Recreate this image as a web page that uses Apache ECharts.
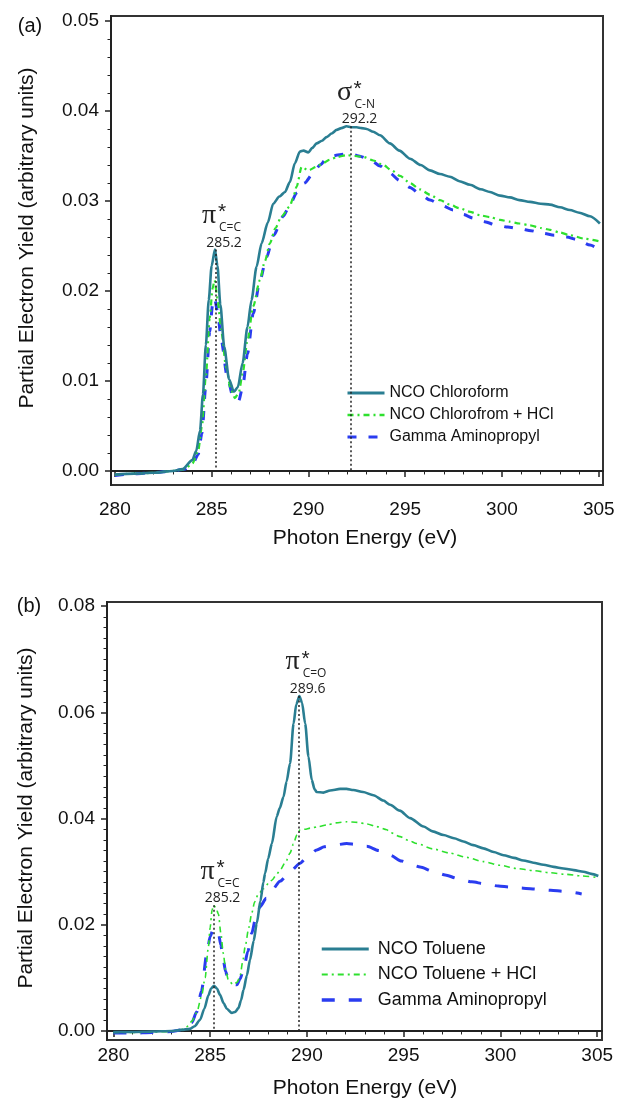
<!DOCTYPE html>
<html>
<head>
<meta charset="utf-8">
<script src="https://cdn.jsdelivr.net/npm/echarts@6/dist/echarts.min.js"></script>
<style>
html, body { margin: 0; padding: 0; background: #fff; }
#main { width: 618px; height: 1099px; }
</style>
</head>
<body>
<div id="main"></div>
<script>
// ---- panel (a) : chloroform ----
var aTealX = [280, 281, 282, 283, 283.5, 284.0, 284.2, 284.4, 284.55, 284.7, 284.85, 285.0, 285.17, 285.3, 285.45, 285.65, 285.9, 286.15, 286.35, 286.6, 286.85, 287.06, 287.32, 287.58, 287.9, 288.18, 288.5, 288.79, 289.04, 289.3, 289.56, 289.75, 289.99, 290.2, 290.42, 290.7, 290.94, 291.2, 291.46, 291.7, 291.97, 292.2, 292.49, 292.75, 293.01, 293.35, 293.7, 294.21, 294.7, 295.25, 295.8, 296.28, 296.8, 297.31, 297.8, 298.35, 298.9, 299.38, 299.9, 300.41, 300.9, 301.45, 302.0, 302.48, 303.0, 303.51, 304.0, 304.55, 305.06];
var aTealY = [-0.0004, -0.0003, -0.0002, 0.0000, 0.0002, 0.0012, 0.0022, 0.0045, 0.0085, 0.0140, 0.0190, 0.0228, 0.0246, 0.0228, 0.0185, 0.0138, 0.0102, 0.0088, 0.0093, 0.0120, 0.0160, 0.0190, 0.0227, 0.0253, 0.0276, 0.0297, 0.0305, 0.0310, 0.0321, 0.0342, 0.0355, 0.0356, 0.0354, 0.0359, 0.0364, 0.0367, 0.0371, 0.0375, 0.0379, 0.0381, 0.0383, 0.0382, 0.0382, 0.0381, 0.0380, 0.0377, 0.0373, 0.0364, 0.0356, 0.0347, 0.0340, 0.0334, 0.0330, 0.0327, 0.0322, 0.0318, 0.0313, 0.0310, 0.0306, 0.0304, 0.0301, 0.0299, 0.0297, 0.0296, 0.0293, 0.0290, 0.0287, 0.0283, 0.0275];

var aGreenX = [280, 281, 282, 283, 283.6, 284.0, 284.3, 284.5, 284.7, 284.9, 285.05, 285.15, 285.3, 285.5, 285.75, 286.0, 286.2, 286.4, 286.6, 286.85, 287.15, 287.49, 287.75, 288.01, 288.3, 288.61, 289.04, 289.2, 289.39, 289.65, 289.99, 290.42, 290.75, 291.11, 291.5, 291.97, 292.4, 292.83, 293.35, 293.87, 294.3, 294.73, 295.25, 295.75, 296.28, 296.8, 297.31, 297.8, 298.35, 298.9, 299.38, 299.9, 300.41, 300.9, 301.45, 302.0, 302.48, 303.0, 303.51, 304.3, 305.06];
var aGreenY = [-0.0004, -0.0003, -0.0002, 0.0000, 0.0002, 0.0008, 0.0022, 0.0050, 0.0105, 0.0170, 0.0203, 0.0212, 0.0192, 0.0155, 0.0115, 0.0090, 0.0081, 0.0087, 0.0108, 0.0145, 0.0183, 0.0212, 0.0233, 0.0253, 0.0270, 0.0283, 0.0294, 0.0303, 0.0316, 0.0338, 0.0334, 0.0338, 0.0342, 0.0346, 0.0349, 0.0351, 0.0350, 0.0349, 0.0345, 0.0340, 0.0334, 0.0328, 0.0320, 0.0313, 0.0307, 0.0301, 0.0296, 0.0292, 0.0288, 0.0284, 0.0282, 0.0279, 0.0277, 0.0275, 0.0273, 0.0270, 0.0268, 0.0265, 0.0262, 0.0258, 0.0255];

var aBlueX = [280, 281, 282, 283, 283.6, 284.0, 284.3, 284.5, 284.7, 284.9, 285.05, 285.15, 285.3, 285.5, 285.8, 286.1, 286.4, 286.6, 286.85, 287.15, 287.5, 287.84, 288.2, 288.7, 289.05, 289.39, 289.8, 290.25, 290.6, 290.94, 291.5, 292.14, 292.6, 293.18, 293.7, 294.21, 294.7, 295.25, 295.75, 296.28, 296.9, 297.48, 298.0, 298.52, 299.1, 299.73, 300.3, 300.93, 301.5, 302.13, 302.7, 303.34, 303.9, 304.55, 304.8];
var aBlueY = [-0.0005, -0.0003, -0.0002, 0.0000, 0.0002, 0.0007, 0.0018, 0.0042, 0.0095, 0.0155, 0.0185, 0.0192, 0.0178, 0.0145, 0.0105, 0.0083, 0.0078, 0.0093, 0.0130, 0.0175, 0.0212, 0.0238, 0.0262, 0.0283, 0.0296, 0.0309, 0.0320, 0.0331, 0.0340, 0.0347, 0.0351, 0.0353, 0.0350, 0.0346, 0.0339, 0.0331, 0.0323, 0.0315, 0.0308, 0.0301, 0.0295, 0.0290, 0.0285, 0.0281, 0.0277, 0.0273, 0.0271, 0.0269, 0.0267, 0.0264, 0.0262, 0.0260, 0.0257, 0.0251, 0.0249];

// ---- panel (b) : toluene ----
var bTealX = [280, 281, 282, 283, 283.5, 283.96, 284.2, 284.48, 284.7, 284.91, 285.05, 285.2, 285.35, 285.51, 285.7, 285.86, 286.12, 286.3, 286.46, 286.6, 286.72, 286.9, 287.06, 287.25, 287.41, 287.6, 287.75, 287.84, 288.0, 288.19, 288.44, 288.6, 288.79, 288.95, 289.13, 289.31, 289.45, 289.61, 289.75, 289.91, 290.08, 290.25, 290.4, 290.51, 290.85, 291.2, 291.72, 292.05, 292.4, 292.9, 293.44, 293.95, 294.3, 294.8, 295.33, 296.03, 296.5, 297.06, 297.6, 298.09, 298.6, 299.12, 299.65, 300.16, 300.7, 301.19, 301.7, 302.22, 302.75, 303.26, 303.8, 304.29, 304.7, 305.06];
var bTealY = [-0.0002, -0.0002, -0.0001, 0.0000, 0.0002, 0.0004, 0.0009, 0.0021, 0.0042, 0.0067, 0.0080, 0.0085, 0.0080, 0.0068, 0.0052, 0.0042, 0.0034, 0.0036, 0.0043, 0.0058, 0.0077, 0.0105, 0.0134, 0.0170, 0.0203, 0.0245, 0.0280, 0.0297, 0.0325, 0.0353, 0.0404, 0.0420, 0.0441, 0.0470, 0.0504, 0.0579, 0.0615, 0.0631, 0.0618, 0.0579, 0.0517, 0.0473, 0.0455, 0.0450, 0.0449, 0.0453, 0.0456, 0.0456, 0.0454, 0.0450, 0.0444, 0.0434, 0.0426, 0.0415, 0.0401, 0.0385, 0.0376, 0.0369, 0.0363, 0.0357, 0.0350, 0.0344, 0.0337, 0.0331, 0.0326, 0.0321, 0.0317, 0.0313, 0.0309, 0.0306, 0.0303, 0.0300, 0.0296, 0.0292];

var bGreenX = [280, 281, 282, 283, 283.5, 283.79, 284.05, 284.31, 284.55, 284.74, 284.9, 285.0, 285.1, 285.17, 285.3, 285.43, 285.55, 285.68, 285.8, 285.94, 286.2, 286.4, 286.55, 286.68, 286.81, 287.0, 287.15, 287.3, 287.49, 287.75, 288.0, 288.19, 288.4, 288.61, 288.9, 289.13, 289.3, 289.48, 289.65, 289.9, 290.17, 290.6, 291.03, 291.5, 292.06, 292.6, 293.1, 293.6, 294.13, 294.3, 294.82, 295.25, 295.68, 296.5, 297.4, 298.25, 299.12, 300.0, 300.85, 301.7, 302.57, 303.4, 304.2, 305.06];
var bGreenY = [-0.0003, -0.0003, -0.0002, -0.0001, 0.0002, 0.0008, 0.0018, 0.0035, 0.0065, 0.0100, 0.0155, 0.0195, 0.0228, 0.0237, 0.0232, 0.0220, 0.0185, 0.0146, 0.0115, 0.0096, 0.0087, 0.0092, 0.0104, 0.0130, 0.0159, 0.0195, 0.0222, 0.0243, 0.0258, 0.0268, 0.0277, 0.0284, 0.0293, 0.0303, 0.0318, 0.0335, 0.0352, 0.0369, 0.0379, 0.0380, 0.0382, 0.0385, 0.0388, 0.0392, 0.0394, 0.0393, 0.0390, 0.0385, 0.0379, 0.0374, 0.0366, 0.0359, 0.0353, 0.0343, 0.0335, 0.0327, 0.0319, 0.0312, 0.0306, 0.0302, 0.0298, 0.0295, 0.0292, 0.0289];

var bBlueX = [280, 281, 282, 283, 283.5, 283.79, 284.05, 284.31, 284.55, 284.83, 285.0, 285.17, 285.3, 285.43, 285.55, 285.68, 285.8, 285.94, 286.15, 286.38, 286.55, 286.72, 286.95, 287.15, 287.35, 287.58, 287.9, 288.19, 288.61, 289.13, 289.65, 290.0, 290.51, 290.9, 291.37, 292.06, 292.6, 293.1, 293.7, 294.3, 294.9, 295.4, 295.85, 296.5, 297.14, 297.8, 298.52, 299.2, 299.9, 300.5, 301.19, 301.9, 302.6, 303.3, 304.2];
var bBlueY = [-0.0004, -0.0004, -0.0003, -0.0001, 0.0002, 0.0007, 0.0016, 0.0036, 0.0075, 0.0146, 0.0178, 0.0193, 0.0191, 0.0184, 0.0162, 0.0134, 0.0112, 0.0096, 0.0088, 0.0087, 0.0098, 0.0115, 0.0150, 0.0184, 0.0212, 0.0234, 0.0250, 0.0265, 0.0282, 0.0300, 0.0316, 0.0327, 0.0341, 0.0347, 0.0350, 0.0353, 0.0351, 0.0348, 0.0340, 0.0331, 0.0320, 0.0313, 0.0309, 0.0301, 0.0294, 0.0287, 0.0281, 0.0277, 0.0273, 0.0271, 0.0269, 0.0267, 0.0265, 0.0263, 0.0258];

// ticks
var xTicks = [280, 285, 290, 295, 300, 305];
var yTicksA = [0, 0.01, 0.02, 0.03, 0.04, 0.05];
var yTicksB = [0, 0.02, 0.04, 0.06, 0.08];

// peak markers: [energy, height, symbol, subscript, label]
var peaksA = [[285.2, 0.0246, 'π', 'C=C', '285.2'], [292.2, 0.0383, 'σ', 'C-N', '292.2']];
var peaksB = [[285.2, 0.0237, 'π', 'C=C', '285.2'], [289.6, 0.0631, 'π', 'C=O', '289.6']];

var TEAL = '#2a7e92', GREEN = '#2ee02e', BLUE = '#2a3cf0', INK = '#222';
var FONT = 'Liberation Sans';

function pairs(xs, ys) {
    return xs.map(function (x, i) { return [x, ys[i]]; });
}
function minorSteps(from, to, step, every) {
    var out = [];
    for (var k = Math.round(from / step); k * step <= to + 1e-9; k++) {
        if (k % every !== 0) out.push(+(k * step).toFixed(4));
    }
    return out;
}
var xMinor = minorSteps(280, 305, 1, 5);
var yMinorA = minorSteps(0, 0.05, 0.002, 5);
var yMinorB = minorSteps(0, 0.08, 0.002, 10);

function mainX(grid, min, max, margin) {
    return {
        type: 'value', gridIndex: grid, position: 'bottom', min: min, max: max,
        axisLine: { show: true, lineStyle: { color: INK, width: 2 } },
        axisTick: { show: true, customValues: xTicks, length: 6, lineStyle: { color: INK, width: 1.5 } },
        axisLabel: { customValues: xTicks, margin: margin, color: '#111', fontSize: 19, fontFamily: FONT },
        splitLine: { show: false }
    };
}
function minorX(grid, min, max) {
    return {
        type: 'value', gridIndex: grid, position: 'bottom', min: min, max: max,
        axisLine: { show: false },
        axisTick: { show: true, customValues: xMinor, length: 3.5, lineStyle: { color: INK, width: 1 } },
        axisLabel: { show: false }, splitLine: { show: false }
    };
}
function mainY(grid, min, max, ticks) {
    return {
        type: 'value', gridIndex: grid, position: 'left', min: min, max: max,
        axisLine: { show: true, lineStyle: { color: INK, width: 2 } },
        axisTick: { show: true, customValues: ticks, length: 6, lineStyle: { color: INK, width: 1.5 } },
        axisLabel: {
            customValues: ticks, margin: 12, color: '#111', fontSize: 19, fontFamily: FONT,
            formatter: function (v) { return v.toFixed(2); }
        },
        splitLine: { show: false }
    };
}
function minorY(grid, min, max, ticks) {
    return {
        type: 'value', gridIndex: grid, position: 'left', min: min, max: max,
        axisLine: { show: false },
        axisTick: { show: true, customValues: ticks, length: 3.5, lineStyle: { color: INK, width: 1 } },
        axisLabel: { show: false }, splitLine: { show: false }
    };
}
function dotted(peaks) {
    return {
        silent: true, symbol: ['none', 'none'], animation: false,
        label: { show: false },
        lineStyle: { color: INK, type: [2, 2.5], width: 1.5 },
        data: peaks.map(function (p) { return [{ coord: [p[0], p[1]] }, { coord: [p[0], -0.0002] }]; })
    };
}
function line(name, xi, xs, ys, color, width, type, z, extra) {
    var s = {
        name: name, type: 'line', xAxisIndex: xi, yAxisIndex: xi, data: pairs(xs, ys),
        symbol: 'none', showSymbol: false, smooth: 0.25, smoothMonotone: 'x', z: z,
        itemStyle: { color: color },
        lineStyle: { color: color, width: width, type: type }
    };
    for (var k in extra) s[k] = extra[k];
    return s;
}

var myChart = echarts.init(document.getElementById('main'));
var option = {
    animation: false,
    backgroundColor: '#fff',
    grid: [
        { left: 111, top: 16, width: 492, height: 469, show: true, borderColor: '#333', borderWidth: 2 },
        { left: 107, top: 602, width: 495, height: 438, show: true, borderColor: '#333', borderWidth: 2 }
    ],
    xAxis: [
        mainX(0, 279.8, 305.22, 15), minorX(0, 279.8, 305.22),
        mainX(1, 279.67, 305.25, 6), minorX(1, 279.67, 305.25)
    ],
    yAxis: [
        mainY(0, -0.00156, 0.05056, yTicksA), minorY(0, -0.00156, 0.05056, yMinorA),
        mainY(1, -0.0017, 0.0808, yTicksB), minorY(1, -0.0017, 0.0808, yMinorB)
    ],
    legend: [
        {
            orient: 'vertical', left: 341, top: 380, itemWidth: 37, itemHeight: 14, itemGap: 6,
            itemStyle: { opacity: 0 },
            textStyle: { fontSize: 16, lineHeight: 16, fontFamily: FONT, color: '#111' },
            data: [
                { name: 'NCO Chloroform', lineStyle: { width: 3 } },
                { name: 'NCO Chlorofrom + HCl', lineStyle: { width: 2.5 } },
                { name: 'Gamma Aminopropyl', lineStyle: { width: 3 } }
            ]
        },
        {
            orient: 'vertical', left: 315, top: 935, itemWidth: 47, itemHeight: 14, itemGap: 7.5,
            itemStyle: { opacity: 0 },
            textStyle: { fontSize: 18, lineHeight: 18, fontFamily: FONT, color: '#111', padding: [0, 0, 0, 4] },
            data: [
                { name: 'NCO Toluene', lineStyle: { width: 3 } },
                { name: 'NCO Toluene + HCl', lineStyle: { width: 2 } },
                { name: 'Gamma Aminopropyl', lineStyle: { type: [13, 14], width: 3.5 } }
            ]
        }
    ],
    series: [
        line('NCO Chloroform', 0, aTealX, aTealY, TEAL, 2.6, 'solid', 4, { markLine: dotted(peaksA) }),
        line('NCO Chlorofrom + HCl', 0, aGreenX, aGreenY, GREEN, 2.2, [6, 4, 2, 4], 3),
        line('Gamma Aminopropyl', 0, aBlueX, aBlueY, BLUE, 3, [9, 12], 2),
        line('NCO Toluene', 2, bTealX, bTealY, TEAL, 2.6, 'solid', 4, { markLine: dotted(peaksB) }),
        line('NCO Toluene + HCl', 2, bGreenX, bGreenY, GREEN, 1.6, [6, 4, 2, 4], 3),
        line('Gamma Aminopropyl', 2, bBlueX, bBlueY, BLUE, 3, [13, 14], 2)
    ]
};
myChart.setOption(option);

// text: panel tags, axis titles, peak annotations
var graphics = [
    { type: 'text', x: 30, y: 26, style: { text: '(a)', fontSize: 20, fontFamily: FONT, fill: '#111', align: 'center', verticalAlign: 'middle' } },
    { type: 'text', x: 29, y: 606, style: { text: '(b)', fontSize: 20, fontFamily: FONT, fill: '#111', align: 'center', verticalAlign: 'middle' } },
    { type: 'text', x: 365, y: 538, style: { text: 'Photon Energy (eV)', fontSize: 21, fontFamily: FONT, fill: '#111', align: 'center', verticalAlign: 'middle' } },
    { type: 'text', x: 365, y: 1088, style: { text: 'Photon Energy (eV)', fontSize: 21, fontFamily: FONT, fill: '#111', align: 'center', verticalAlign: 'middle' } },
    { type: 'text', x: 27, y: 238, rotation: Math.PI / 2, style: { text: 'Partial Electron Yield (arbitrary units)', fontSize: 21, fontFamily: FONT, fill: '#111', align: 'center', verticalAlign: 'middle' } },
    { type: 'text', x: 26, y: 818, rotation: Math.PI / 2, style: { text: 'Partial Electron Yield (arbitrary units)', fontSize: 21, fontFamily: FONT, fill: '#111', align: 'center', verticalAlign: 'middle' } }
];
function peakLabels(peaks, axisIndex) {
    peaks.forEach(function (p) {
        var pt = myChart.convertToPixel({ xAxisIndex: axisIndex, yAxisIndex: axisIndex }, [p[0], p[1]]);
        var nx = pt[0] + 8.5, ny = pt[1] - 7;
        graphics.push({ type: 'text', x: nx, y: ny, style: { text: p[4], fontSize: 14, fontFamily: 'Open Sans', fill: INK, align: 'center', verticalAlign: 'middle' } });
        graphics.push({ type: 'text', x: nx - 15, y: ny - 27, style: { text: p[2], fontSize: 28, fontFamily: 'Liberation Serif', fill: INK, align: 'center', verticalAlign: 'middle' } });
        graphics.push({ type: 'text', x: nx - 2, y: ny - 30, style: { text: '*', fontSize: 21, fontFamily: FONT, fill: INK, align: 'center', verticalAlign: 'middle' } });
        graphics.push({ type: 'text', x: nx - 5, y: ny - 15, style: { text: p[3], fontSize: 12, fontFamily: 'Open Sans', fill: INK, align: 'left', verticalAlign: 'middle' } });
    });
}
peakLabels(peaksA, 0);
peakLabels(peaksB, 2);
myChart.setOption({ graphic: graphics });
</script>
</body>
</html>
